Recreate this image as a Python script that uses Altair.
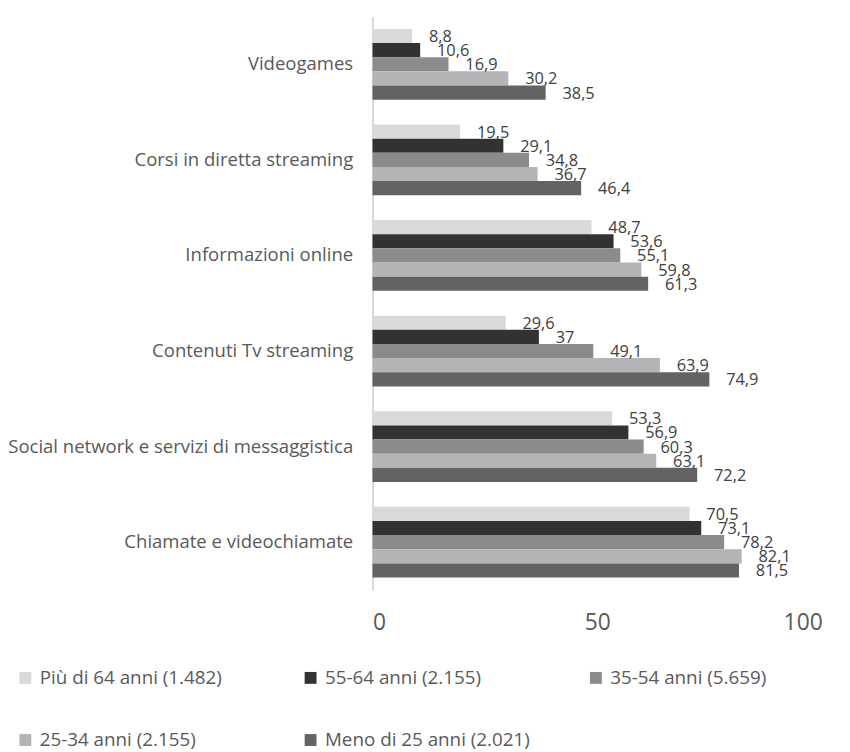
import altair as alt
import pandas as pd

categories = [
    "Videogames",
    "Corsi in diretta streaming",
    "Informazioni online",
    "Contenuti Tv streaming",
    "Social network e servizi di messaggistica",
    "Chiamate e videochiamate",
]
series = [
    "Più di 64 anni (1.482)",
    "55-64 anni (2.155)",
    "35-54 anni (5.659)",
    "25-34 anni (2.155)",
    "Meno di 25 anni (2.021)",
]
colors = ["#d9d9d9", "#333233", "#8b8b8d", "#b4b4b6", "#636365"]

v_over64 = [8.8, 19.5, 48.7, 29.6, 53.3, 70.5]
v_55_64 = [10.6, 29.1, 53.6, 37.0, 56.9, 73.1]
v_35_54 = [16.9, 34.8, 55.1, 49.1, 60.3, 78.2]
v_25_34 = [30.2, 36.7, 59.8, 63.9, 63.1, 82.1]
v_under25 = [38.5, 46.4, 61.3, 74.9, 72.2, 81.5]

values = [v_over64, v_55_64, v_35_54, v_25_34, v_under25]

rows = []
for s, vals in zip(series, values):
    for c, v in zip(categories, vals):
        lab = (f"{v:g}").replace(".", ",")
        rows.append({"cat": c, "series": s, "value": v, "label": lab})
df = pd.DataFrame(rows)

FONT = "Open Sans"

y_enc = alt.Y(
    "cat:N",
    sort=categories,
    title=None,
    scale=alt.Scale(paddingInner=0.26, paddingOuter=0.13),
    axis=alt.Axis(
        labelFont=FONT,
        labelFontSize=18.7,
        labelColor="#595959",
        labelPadding=20,
        labelLimit=420,
        ticks=False,
        domainColor="#d9d9d9",
        domainWidth=2,
        grid=False,
    ),
)
yoff = alt.YOffset("series:N", sort=series)
x_enc = alt.X(
    "value:Q",
    title=None,
    scale=alt.Scale(domain=[0, 100]),
    axis=alt.Axis(
        values=[0, 50, 100],
        labelFont=FONT,
        labelFontSize=23,
        labelColor="#595959",
        labelPadding=22,
        domain=False,
        ticks=False,
        grid=False,
    ),
)

bars = alt.Chart(df).mark_bar().encode(
    y=y_enc,
    yOffset=yoff,
    x=x_enc,
    color=alt.Color(
        "series:N",
        sort=series,
        scale=alt.Scale(domain=series, range=colors),
        legend=alt.Legend(
            title=None,
            orient="none",
            legendX=-360,
            legendY=658,
            direction="horizontal",
            columns=3,
            gridAlign="all",
            columnPadding=56,
            rowPadding=43,
            symbolType="square",
            symbolSize=144,
            symbolStrokeWidth=0,
            labelFont=FONT,
            labelFontSize=19,
            labelColor="#595959",
            labelOffset=5,
            labelLimit=400,
            padding=0,
        ),
    ),
)

texts = alt.Chart(df).mark_text(
    align="left", baseline="middle", dx=17, dy=1, font=FONT, fontSize=16.5, color="#404040"
).encode(
    y=alt.Y("cat:N", sort=categories),
    yOffset=yoff,
    x=alt.X("value:Q"),
    text="label:N",
)

chart = (
    alt.layer(bars, texts)
    .properties(
        width=454,
        height=579,
        autosize=alt.AutoSizeParams(type="none"),
        padding={"left": 368, "top": 5, "right": 20, "bottom": 160},
        background="white",
    )
    .configure_view(stroke=None)
)

chart.save("out.html", embed_options={"renderer": "svg", "actions": False})
